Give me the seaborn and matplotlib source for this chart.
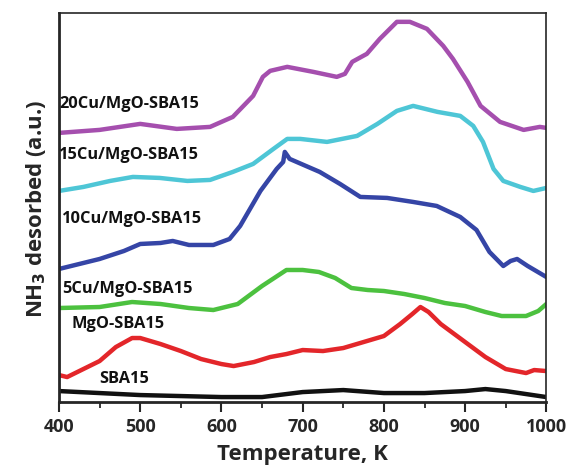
import numpy as np
import pandas as pd
import seaborn as sns
import matplotlib.pyplot as plt
from matplotlib.ticker import MultipleLocator

# values (arbitrary units, offset stack)
t_sba = [400, 450, 500, 550, 600, 650, 700, 750, 800, 850, 900, 925, 950, 975, 1000]
v_sba = [11, 9, 7, 6, 5, 5, 10, 12, 9, 9, 11, 13, 11, 8, 5]

t_mgo = [400, 410, 430, 450, 470, 490, 500, 525, 550, 575, 600, 615, 640, 660, 680, 700,
         725, 750, 775, 800, 820, 835, 845, 855, 870, 900, 925, 950, 975, 985, 1000]
v_mgo = [27, 25, 33, 41, 55, 64, 64, 58, 51, 43, 38, 36, 40, 45, 48, 52,
         51, 54, 60, 66, 78, 88, 95, 90, 78, 60, 45, 33, 29, 32, 31]

t_5cu = [400, 450, 490, 525, 560, 590, 620, 650, 680, 700, 720, 740, 760, 780, 800,
         825, 850, 875, 900, 925, 945, 975, 990, 1000]
v_5cu = [94, 95, 100, 98, 94, 92, 98, 116, 132, 132, 130, 124, 114, 112, 111,
         108, 104, 99, 96, 90, 86, 86, 91, 98]

t_10cu = [400, 450, 480, 500, 525, 540, 560, 590, 610, 623, 648, 668, 676, 678, 684,
          721, 746, 771, 804, 836, 865, 894, 914, 930, 947, 956, 964, 977, 1000]
v_10cu = [133, 143, 151, 158, 159, 161, 157, 157, 163, 176, 211, 233, 240, 250, 243,
          230, 218, 205, 204, 200, 196, 185, 172, 150, 136, 141, 143, 136, 125]

t_15cu = [400, 430, 463, 491, 524, 558, 586, 614, 639, 664, 681, 697, 730, 767, 792,
          816, 836, 866, 894, 910, 922, 935, 947, 968, 984, 1000]
v_15cu = [211, 215, 221, 225, 224, 221, 222, 230, 238, 253, 263, 263, 260, 266, 278,
          291, 296, 290, 286, 276, 260, 233, 221, 215, 211, 214]

t_20cu = [400, 450, 500, 545, 586, 614, 639, 651, 660, 681, 713, 742, 752, 761, 779,
          795, 816, 832, 853, 873, 885, 903, 919, 943, 972, 992, 1000]
v_20cu = [269, 272, 278, 273, 275, 285, 306, 325, 331, 335, 330, 325, 328, 340, 348,
          363, 380, 380, 373, 356, 343, 320, 296, 280, 272, 275, 274]

names = ["SBA15", "MgO-SBA15", "5Cu/MgO-SBA15", "10Cu/MgO-SBA15",
         "15Cu/MgO-SBA15", "20Cu/MgO-SBA15"]
colors = ["#111111", "#e3262a", "#4cc13f", "#3545a6", "#4ec6d6", "#a54fae"]
series = [(t_sba, v_sba), (t_mgo, v_mgo), (t_5cu, v_5cu),
          (t_10cu, v_10cu), (t_15cu, v_15cu), (t_20cu, v_20cu)]

# label anchor (temperature, height) for each curve name
label_pos = [(450, 16), (415, 71), (404, 106), (404, 176), (400, 240), (400, 291)]

sns.set_style("ticks")
plt.rcParams['font.family'] = ['Open Sans', 'DejaVu Sans']

fig = plt.figure(figsize=(5.7, 4.77), dpi=100)
ax = fig.add_axes([0.1035, 0.155, 0.855, 0.816])

for (t, v), name, c in zip(series, names, colors):
    df = pd.DataFrame({"T": t, "v": v})
    sns.lineplot(data=df, x="T", y="v", color=c, lw=3.2, ax=ax)

for (tx, ty), name in zip(label_pos, names):
    ax.text(tx, ty, name, fontsize=11.8, fontweight="bold", color="#111111",
            ha="left", va="bottom")

ax.set_xlim(400, 1000)
ax.set_ylim(0, 389)
ax.set_yticks([])
ax.xaxis.set_major_locator(MultipleLocator(100))
ax.xaxis.set_minor_locator(MultipleLocator(50))
ax.tick_params(axis="x", which="major", length=7, width=1.5, direction="out",
               labelsize=13)
ax.tick_params(axis="x", which="minor", length=4, width=1.3, direction="out")
for lbl in ax.get_xticklabels():
    lbl.set_fontweight("bold")
for sp in ax.spines.values():
    sp.set_visible(True)
    sp.set_linewidth(1.2)
ax.spines["bottom"].set_linewidth(2)
ax.spines["left"].set_linewidth(2)

ax.set_xlabel("Temperature, K", fontsize=16, fontweight="bold", labelpad=6)
ax.set_ylabel(r"NH$_\mathbf{3}$ desorbed (a.u.)", fontsize=16, fontweight="bold",
              labelpad=8)

fig.savefig("out.png", dpi=100)
